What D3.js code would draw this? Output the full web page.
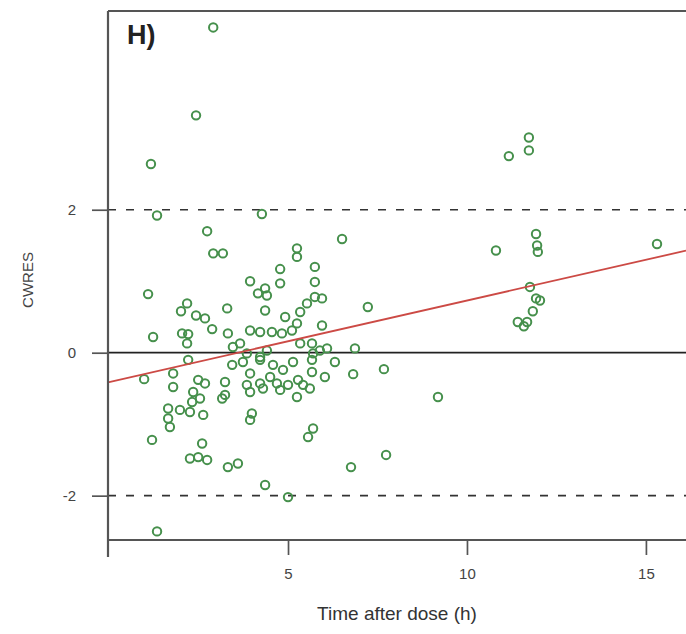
<!DOCTYPE html>
<html>
<head>
<meta charset="utf-8">
<script src="https://cdn.jsdelivr.net/npm/d3@7/dist/d3.min.js"></script>
<style>
html,body{margin:0;padding:0;background:#fff;}
svg{display:block;}
</style>
</head>
<body>
<svg id="chart" width="686" height="634"></svg>
<script>
// Time after dose (h)
const timeH = [
  2.91,2.43,1.17,1.34,4.27,2.74,2.91,3.18,1.09,1.23,0.98,1.20,4.36,5.00,1.34,
  11.17,11.73,11.73,10.81,11.93,11.96,11.98,15.31,11.76,11.93,12.04,11.84,11.68,11.42,11.59,
  9.19,6.87,6.82,7.68,6.76,7.74,7.23,6.51,
  5.25,5.25,4.78,5.75,5.75,4.78,3.94,4.36,4.16,4.41,4.36,4.92,5.34,5.53,5.75,5.95,5.25,5.95,
  2.18,2.01,2.43,2.68,2.88,2.04,2.21,2.18,2.21,3.30,3.32,3.44,
  3.94,4.22,4.55,4.83,5.11,5.34,5.67,6.09,3.46,3.66,3.85,4.22,4.41,3.74,4.22,4.58,5.14,5.67,6.31,
  3.94,4.50,4.86,5.28,5.67,6.03,3.85,4.22,4.69,5.00,5.42,5.70,5.89,
  3.94,4.30,4.78,5.25,5.61,3.99,3.94,5.70,5.56,
  1.79,1.79,2.49,2.68,3.24,3.16,2.35,2.54,2.32,1.65,1.98,2.26,2.63,1.65,1.70,2.60,2.26,2.49,2.74,3.32,3.60,3.24
];
// Conditional weighted residuals
const cwres = [
  4.55,3.32,2.64,1.92,1.94,1.70,1.39,1.39,0.82,0.22,-0.37,-1.22,-1.85,-2.02,-2.50,
  2.75,3.01,2.83,1.43,1.66,1.50,1.41,1.52,0.92,0.76,0.73,0.58,0.43,0.43,0.37,
  -0.62,0.06,-0.30,-0.23,-1.60,-1.43,0.64,1.59,
  1.46,1.34,1.17,1.20,0.99,0.97,1.00,0.90,0.83,0.80,0.59,0.50,0.57,0.69,0.78,0.76,0.41,0.38,
  0.69,0.58,0.52,0.48,0.33,0.27,0.26,0.13,-0.10,0.62,0.27,-0.17,
  0.31,0.29,0.29,0.27,0.31,0.13,0.13,0.06,0.08,0.13,-0.01,-0.06,0.03,-0.13,-0.10,-0.17,-0.13,-0.10,-0.13,
  -0.29,-0.34,-0.24,-0.38,-0.27,-0.34,-0.45,-0.43,-0.43,-0.45,-0.45,-0.01,0.03,
  -0.55,-0.50,-0.52,-0.62,-0.50,-0.85,-0.94,-1.06,-1.18,
  -0.29,-0.48,-0.38,-0.43,-0.41,-0.64,-0.55,-0.64,-0.69,-0.78,-0.80,-0.83,-0.87,-0.92,-1.04,-1.27,-1.48,-1.46,-1.50,-1.60,-1.55,-0.59
];
const xTicks = [5, 10, 15];
const yTicks = [-2, 0, 2];
const refLines = [-2, 2];
const trendIntercept = -0.41;
const trendSlope = 0.114;
const xDomain = [-0.03, 16.12];
const yDomain = [-2.62, 4.78];

const svg = d3.select("#chart");
const L = 108, R = 686, T = 11, B = 540;
const x = d3.scaleLinear().domain(xDomain).range([L, R]);
const y = d3.scaleLinear().domain(yDomain).range([B, T]);
const font = "Liberation Sans, Arial, sans-serif";

// reference lines
svg.selectAll("line.ref").data(refLines).enter().append("line")
  .attr("x1", L).attr("x2", R)
  .attr("y1", d => y(d)).attr("y2", d => y(d))
  .attr("stroke", "#333").attr("stroke-width", 1.7)
  .attr("stroke-dasharray", "8,10");
svg.append("line").attr("x1", L).attr("x2", R)
  .attr("y1", y(0)).attr("y2", y(0))
  .attr("stroke", "#222").attr("stroke-width", 1.7);

// points
svg.selectAll("circle.pt").data(timeH.map((t, i) => [t, cwres[i]])).enter().append("circle")
  .attr("cx", d => x(d[0])).attr("cy", d => y(d[1])).attr("r", 4.2)
  .attr("fill", "none").attr("stroke", "#46904c").attr("stroke-width", 2);

// trend line
svg.append("line")
  .attr("x1", x(xDomain[0])).attr("y1", y(trendIntercept + trendSlope * xDomain[0]))
  .attr("x2", x(xDomain[1])).attr("y2", y(trendIntercept + trendSlope * xDomain[1]))
  .attr("stroke", "#cc4a45").attr("stroke-width", 1.8);

// frame
svg.append("line").attr("x1", L).attr("x2", R).attr("y1", T).attr("y2", T)
  .attr("stroke", "#555").attr("stroke-width", 2.2);
svg.append("line").attr("x1", L).attr("x2", L).attr("y1", T).attr("y2", 557)
  .attr("stroke", "#555").attr("stroke-width", 2.2);

// x axis
const xAxis = d3.axisBottom(x).tickValues(xTicks).tickSize(15).tickPadding(13).tickFormat(d3.format("d"));
const gx = svg.append("g").attr("transform", `translate(0,${B})`).call(xAxis);
gx.select(".domain").attr("d", `M${L},0H${R}`).attr("stroke", "#555").attr("stroke-width", 2.2);
gx.selectAll(".tick line").attr("stroke", "#555").attr("stroke-width", 1.7);
gx.selectAll(".tick text").attr("fill", "#444").style("font-family", font).style("font-size", "15px");

// y axis
const yAxis = d3.axisLeft(y).tickValues(yTicks).tickSize(16).tickPadding(16).tickFormat(d => d < 0 ? "-" + Math.abs(d) : d);
const gy = svg.append("g").attr("transform", `translate(${L},0)`).call(yAxis);
gy.select(".domain").remove();
gy.selectAll(".tick line").attr("stroke", "#555").attr("stroke-width", 1.7);
gy.selectAll(".tick text").attr("fill", "#444").style("font-family", font).style("font-size", "15px");

// labels
svg.append("text").attr("x", 397).attr("y", 620).attr("text-anchor", "middle")
  .style("font-family", font).style("font-size", "19px").attr("fill", "#333")
  .text("Time after dose (h)");
svg.append("text").attr("transform", "translate(33,280) rotate(-90)").attr("text-anchor", "middle")
  .style("font-family", font).style("font-size", "15px").attr("fill", "#444")
  .text("CWRES");
svg.append("text").attr("x", 127).attr("y", 44)
  .style("font-family", font).style("font-size", "27px").style("font-weight", "bold").attr("fill", "#222")
  .text("H)");
</script>
</body>
</html>
